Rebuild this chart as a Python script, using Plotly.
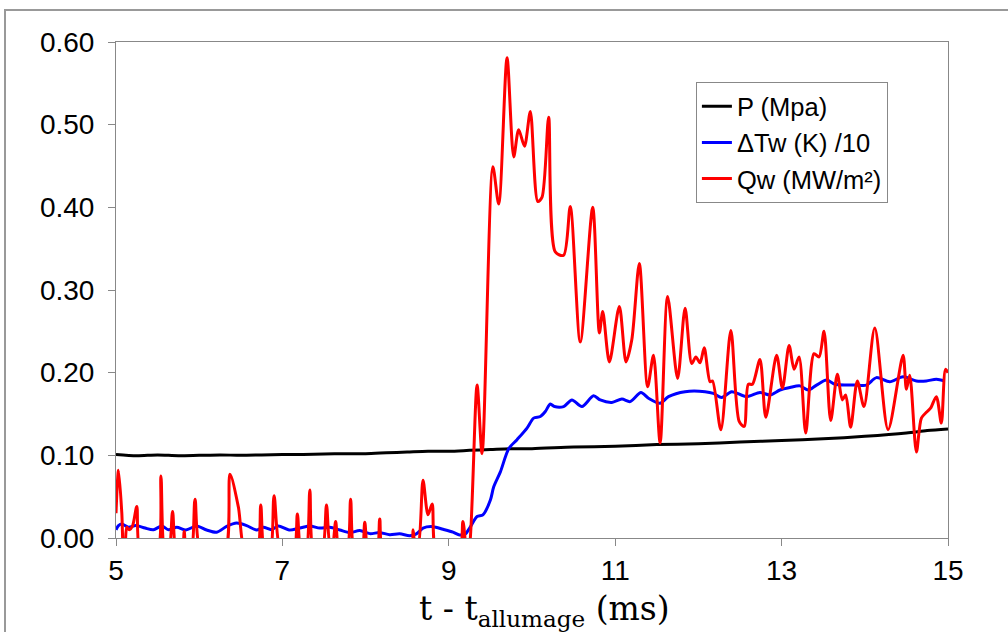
import plotly.graph_objects as go

# ---- data ----
p_t = [5.0, 5.25, 5.5, 5.75, 6.0, 6.25, 6.5, 6.75, 7.0, 7.25, 7.5, 7.75, 8.0, 8.25, 8.5, 8.75,
       9.0, 9.25, 9.5, 9.75, 10.0, 10.5, 11.0, 11.5, 12.0, 12.5, 13.0, 13.5, 14.0, 14.5, 14.75, 15.0]
p_val = [0.101, 0.0995, 0.1005, 0.0995, 0.100, 0.1005, 0.100, 0.1005, 0.101, 0.101, 0.1015, 0.102,
         0.102, 0.103, 0.104, 0.105, 0.105, 0.106, 0.107, 0.108, 0.108, 0.110, 0.111, 0.113, 0.114,
         0.116, 0.118, 0.120, 0.123, 0.127, 0.130, 0.132]

dtw_t = [5.00, 5.03, 5.07, 5.15, 5.24, 5.35, 5.45, 5.55, 5.63, 5.73, 5.84, 5.97, 6.09, 6.21, 6.33,
         6.45, 6.57, 6.69, 6.77, 6.87, 6.95, 7.08, 7.21, 7.33, 7.45, 7.57, 7.69, 7.81, 7.93, 8.05,
         8.17, 8.29, 8.41, 8.53, 8.61, 8.69, 8.81, 8.93, 9.05, 9.13, 9.20, 9.25, 9.34, 9.41, 9.50,
         9.54, 9.62, 9.72, 9.82, 9.94, 10.02, 10.10, 10.16, 10.22, 10.27, 10.38, 10.48, 10.60,
         10.74, 10.82, 10.96, 11.08, 11.18, 11.31, 11.40, 11.54, 11.64, 11.84, 12.08, 12.18, 12.28,
         12.40, 12.58, 12.74, 12.86, 12.98, 13.10, 13.22, 13.32, 13.42, 13.54, 13.64, 13.78, 13.90,
         14.02, 14.14, 14.30, 14.46, 14.62, 14.74, 14.86, 14.96]
dtw_val = [0.010, 0.015, 0.017, 0.013, 0.015, 0.012, 0.010, 0.0145, 0.010, 0.013, 0.0097, 0.0145,
           0.0097, 0.007, 0.014, 0.018, 0.015, 0.0097, 0.013, 0.010, 0.0145, 0.0097, 0.012, 0.0145,
           0.012, 0.013, 0.0097, 0.0065, 0.009, 0.0053, 0.0065, 0.004, 0.005, 0.0028, 0.005, 0.012,
           0.0137, 0.0105, 0.007, 0.0036, 0.005, 0.012, 0.026, 0.028, 0.046, 0.062, 0.080, 0.108,
           0.119, 0.133, 0.145, 0.147, 0.153, 0.162, 0.159, 0.159, 0.167, 0.159, 0.172, 0.167,
           0.164, 0.168, 0.165, 0.176, 0.169, 0.163, 0.171, 0.177, 0.177, 0.175, 0.170, 0.177,
           0.171, 0.176, 0.173, 0.179, 0.182, 0.184, 0.179, 0.185, 0.191, 0.186, 0.185, 0.185,
           0.185, 0.194, 0.189, 0.195, 0.190, 0.190, 0.192, 0.190]

qw_t = [5.00, 5.03, 5.07, 5.09, 5.11, 5.13, 5.16, 5.20, 5.25, 5.30, 5.49, 5.54, 5.59, 5.63, 5.68,
        5.73, 5.79, 5.82, 5.85, 5.90, 5.95, 6.03, 6.30, 6.37, 6.47, 6.56, 6.69, 6.74, 6.79, 6.85,
        6.90, 6.99, 7.13, 7.18, 7.23, 7.28, 7.33, 7.38, 7.47, 7.53, 7.575, 7.60, 7.64, 7.69, 7.77,
        7.82, 7.87, 7.95, 7.99, 8.04, 8.13, 8.17, 8.22, 8.54, 8.57, 8.60, 8.63, 8.69, 8.75, 8.80,
        8.86, 9.12, 9.17, 9.22, 9.25, 9.34, 9.40, 9.53, 9.60, 9.70, 9.78, 9.84, 9.91, 9.98, 10.07,
        10.12, 10.20, 10.28, 10.38, 10.46, 10.58, 10.73, 10.81, 10.85, 10.93, 11.05, 11.13, 11.20,
        11.29, 11.39, 11.46, 11.54, 11.63, 11.75, 11.84, 11.92, 11.97, 12.02, 12.07, 12.14, 12.17,
        12.27, 12.39, 12.49, 12.55, 12.60, 12.65, 12.74, 12.81, 12.94, 13.01, 13.09, 13.15, 13.21,
        13.29, 13.39, 13.45, 13.51, 13.59, 13.67, 13.73, 13.77, 13.83, 13.91, 13.99, 14.12, 14.28,
        14.46, 14.50, 14.54, 14.62, 14.68, 14.74, 14.79, 14.86, 14.92, 14.97, 15.00]
qw_val = [0.030, 0.082, 0.030, -0.02, -0.01, 0.013, 0.010, 0.015, 0.038, -0.02, -0.02, 0.075, -0.02,
          -0.02, 0.032, -0.02, -0.02, 0.008, -0.02, -0.02, 0.047, -0.02, -0.02, 0.077, 0.038, -0.02,
          -0.02, 0.040, -0.02, -0.02, 0.051, -0.02, -0.02, 0.029, -0.02, -0.02, 0.058, -0.02, -0.02,
          0.040, -0.01, -0.01, 0.020, -0.02, -0.02, 0.047, -0.02, -0.02, 0.019, -0.02, -0.02, 0.023,
          -0.02, -0.02, 0.010, -0.01, -0.01, 0.070, 0.028, 0.041, -0.02, -0.02, 0.020, -0.02, -0.01,
          0.185, 0.102, 0.449, 0.404, 0.581, 0.461, 0.494, 0.474, 0.516, 0.407, 0.412, 0.509, 0.346,
          0.342, 0.401, 0.237, 0.400, 0.248, 0.274, 0.213, 0.280, 0.213, 0.240, 0.332, 0.183, 0.221,
          0.115, 0.292, 0.193, 0.278, 0.211, 0.219, 0.212, 0.230, 0.189, 0.190, 0.131, 0.251, 0.141,
          0.135, 0.186, 0.186, 0.216, 0.146, 0.221, 0.181, 0.233, 0.204, 0.219, 0.127, 0.223, 0.219,
          0.250, 0.142, 0.198, 0.167, 0.173, 0.134, 0.190, 0.159, 0.254, 0.131, 0.221, 0.180, 0.197,
          0.104, 0.145, 0.152, 0.157, 0.171, 0.139, 0.204, 0.200]

x_ticks = [5, 7, 9, 11, 13, 15]
y_ticks = [0.0, 0.1, 0.2, 0.3, 0.4, 0.5, 0.6]

names = ["P (Mpa)", "\u0394Tw (K) /10", "Qw (MW/m\u00b2)"]
colors = ["#000000", "#0000FF", "#FF0000"]
x_title = "t - t<sub>allumage</sub> (ms)"

fig = go.Figure()
for i, (xs, ys) in enumerate([(p_t, p_val), (dtw_t, dtw_val), (qw_t, qw_val)]):
    fig.add_trace(go.Scatter(
        x=xs, y=ys, mode="lines", name=names[i], legendgroup=f"g{i}",
        line=dict(color=colors[i], width=3, shape="spline", smoothing=0.8),
    ))

axis_common = dict(
    showline=True, linecolor="#888888", linewidth=1, mirror=True,
    showgrid=False, zeroline=False, ticks="outside", ticklen=7, tickcolor="#888888",
    tickfont=dict(family="Liberation Sans, Arial, sans-serif", size=28, color="#000000"),
)

fig.update_xaxes(range=[5, 15], tickvals=x_ticks, ticktext=[str(v) for v in x_ticks],
                 **axis_common)
fig.update_yaxes(range=[0, 0.6], tickvals=y_ticks, ticktext=[f"{v:.2f}" for v in y_ticks],
                 ticklabelstandoff=8, **axis_common)

fig.update_layout(
    width=1008, height=632,
    margin=dict(l=116, r=60, t=42, b=94),
    paper_bgcolor="white", plot_bgcolor="white",
    showlegend=True,
    legend=dict(x=0.697, y=0.919, xanchor="left", yanchor="top",
                bgcolor="white", bordercolor="#888888", borderwidth=1,
                font=dict(family="Liberation Sans, Arial, sans-serif", size=25.5, color="#000000"),
                tracegroupgap=0, itemwidth=30),
    annotations=[dict(text=x_title, xref="paper", yref="paper",
                      x=(544 - 116) / 832, y=(538 - 612) / 496, xanchor="center", yanchor="bottom",
                      yshift=-22, showarrow=False,
                      font=dict(family="DejaVu Serif, Liberation Serif, serif", size=33,
                                color="#000000"))],
    shapes=[dict(type="rect", xref="paper", yref="paper",
                 x0=(5 - 116) / 832, x1=(1012 - 116) / 832,
                 y0=(538 - 640) / 496, y1=(538 - 10) / 496,
                 line=dict(color="#999999", width=2), fillcolor="rgba(0,0,0,0)", layer="below")],
)

fig.write_html("out.html", config={"displayModeBar": False},
               post_script="document.body.style.margin='0';")
